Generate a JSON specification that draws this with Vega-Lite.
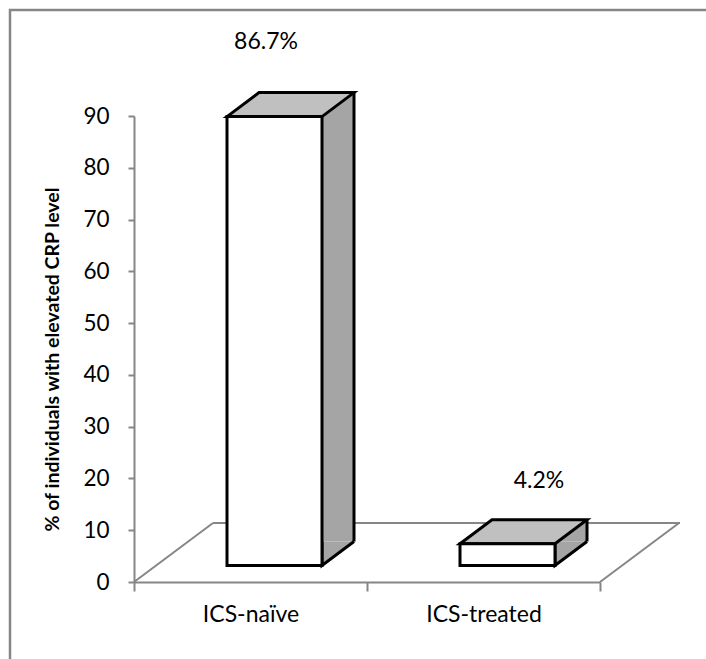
{
  "$schema": "https://vega.github.io/schema/vega-lite/v6.json",
  "width": 706,
  "height": 659,
  "autosize": {"type": "none"},
  "padding": {"left": 10, "top": 10, "right": -10, "bottom": -10},
  "background": "white",
  "config": {
    "font": "Lato",
    "view": {"stroke": "#868686", "strokeWidth": 2.5}
  },
  "data": {
    "values": [
      {"group": "ICS-naïve", "pct": 86.7, "label": "86.7%"},
      {"group": "ICS-treated", "pct": 4.2, "label": "4.2%"}
    ]
  },
  "encoding": {
    "x": {
      "field": "group",
      "type": "nominal",
      "sort": null,
      "scale": {"type": "band", "range": [124, 590], "paddingInner": 0, "paddingOuter": 0},
      "axis": {
        "title": null,
        "orient": "bottom",
        "offset": -87,
        "tickBand": "extent",
        "tickSize": 9,
        "tickColor": "#868686",
        "tickWidth": 2,
        "domainColor": "#868686",
        "domainWidth": 2,
        "labelAngle": 0,
        "labelFont": "Lato",
        "labelFontSize": 23,
        "labelColor": "black",
        "labelPadding": 12
      }
    },
    "y": {
      "field": "pct",
      "type": "quantitative",
      "scale": {"domain": [0, 90], "range": [572, 106], "nice": false},
      "axis": {
        "title": "% of individuals with elevated CRP level",
        "values": [0, 10, 20, 30, 40, 50, 60, 70, 80, 90],
        "offset": -124,
        "grid": false,
        "domainColor": "#868686",
        "domainWidth": 2,
        "tickColor": "#868686",
        "tickWidth": 2,
        "tickSize": 6,
        "labelFont": "Lato",
        "labelFontSize": 22.5,
        "labelColor": "black",
        "labelPadding": 19,
        "titleFont": "Lato",
        "titleFontSize": 19.5,
        "titleFontWeight": "bold",
        "titleColor": "black",
        "titleAngle": -90,
        "titleAlign": "center",
        "titleBaseline": "middle",
        "titleX": -82,
        "titleY": 349
      }
    }
  },
  "layer": [
    {
      "description": "floor: left edge and back edge, hung off the first category",
      "transform": [{"filter": "datum.group === 'ICS-naïve'"}],
      "layer": [
        {
          "mark": {"type": "rule", "color": "#868686", "strokeWidth": 2, "xOffset": -116.5, "x2Offset": -37.5, "y2Offset": -59},
          "encoding": {
            "x2": {"field": "group"},
            "y": {"datum": 0, "type": "quantitative"},
            "y2": {"datum": 0}
          }
        },
        {
          "mark": {"type": "rule", "color": "#868686", "strokeWidth": 2, "xOffset": -37.5, "x2Offset": 429.5, "yOffset": -59, "y2Offset": -59},
          "encoding": {
            "x2": {"field": "group"},
            "y": {"datum": 0, "type": "quantitative"},
            "y2": {"datum": 0}
          }
        }
      ]
    },
    {
      "description": "floor: right edge, hung off the second category",
      "transform": [{"filter": "datum.group === 'ICS-treated'"}],
      "mark": {"type": "rule", "color": "#868686", "strokeWidth": 2, "xOffset": 116.5, "x2Offset": 195.5, "y2Offset": -59},
      "encoding": {
        "x2": {"field": "group"},
        "y": {"datum": 0, "type": "quantitative"},
        "y2": {"datum": 0}
      }
    },
    {
      "description": "back of each box, shows through as the side face",
      "mark": {"type": "bar", "width": 95, "fill": "#a5a5a5", "strokeWidth": 0, "xOffset": 56, "yOffset": -40.5, "y2Offset": -40.5}
    },
    {
      "description": "lower corner of the side face",
      "mark": {"type": "point", "shape": "M79.5,-24L47.5,0L47.5,-24", "size": 4, "filled": true, "fill": "#a5a5a5", "stroke": "black", "strokeWidth": 3, "strokeJoin": "miter", "opacity": 1, "xOffset": 24, "yOffset": -16.5},
      "encoding": {"y": {"datum": 0, "type": "quantitative"}}
    },
    {
      "description": "top face of each box",
      "mark": {"type": "point", "shape": "M-47.5,0L-15.5,-24L79.5,-24L47.5,0Z", "size": 4, "filled": true, "fill": "#c0c0c0", "stroke": "black", "strokeWidth": 3, "strokeJoin": "miter", "opacity": 1, "xOffset": 24, "yOffset": -16.5}
    },
    {
      "description": "front face of each box",
      "mark": {"type": "bar", "width": 95, "fill": "white", "stroke": "black", "strokeWidth": 3, "strokeJoin": "miter", "xOffset": 24, "yOffset": -16.5, "y2Offset": -16.5}
    },
    {
      "description": "back vertical edge of the side face",
      "mark": {"type": "rule", "color": "black", "strokeWidth": 3, "xOffset": 103.5, "yOffset": -40.5, "y2Offset": -40.5},
      "encoding": {"y2": {"datum": 0}}
    },
    {
      "transform": [{"filter": "datum.group === 'ICS-naïve'"}],
      "mark": {"type": "text", "font": "Lato", "fontSize": 23, "color": "black", "align": "center", "baseline": "middle", "dx": 15.5, "dy": -91},
      "encoding": {"text": {"field": "label"}}
    },
    {
      "transform": [{"filter": "datum.group === 'ICS-treated'"}],
      "mark": {"type": "text", "font": "Lato", "fontSize": 23, "color": "black", "align": "center", "baseline": "middle", "dx": 55.5, "dy": -79},
      "encoding": {"text": {"field": "label"}}
    }
  ]
}
